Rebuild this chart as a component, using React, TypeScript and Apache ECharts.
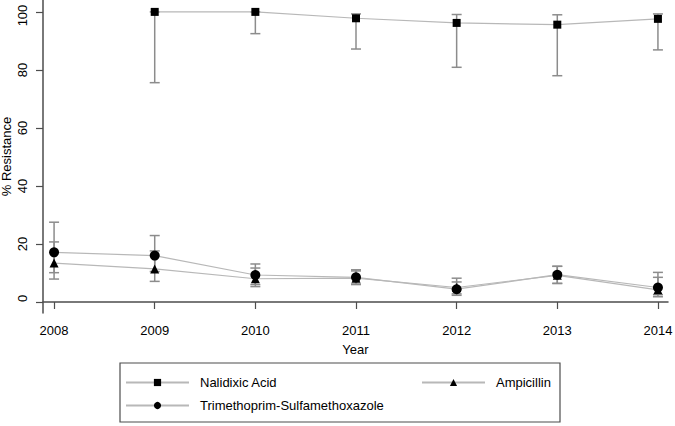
import React, { useEffect, useRef } from "react";
import * as echarts from "echarts";

const years = [2008, 2009, 2010, 2011, 2012, 2013, 2014];
const yTicks = [0, 20, 40, 60, 80, 100];

const nalidixic = [null, 100, 100, 97.8, 96.2, 95.6, 97.6];
const nalidixicLow = [null, 75.6, 92.5, 87.2, 80.9, 78.0, 86.9];
const nalidixicHigh = [null, 100, 100, 99.3, 99.1, 99.0, 99.3];

const ampicillin = [13.4, 11.4, 8.0, 8.2, 5.0, 9.2, 4.2];
const ampicillinLow = [7.9, 7.1, 5.3, 6.0, 2.8, 6.4, 1.8];
const ampicillinHigh = [20.7, 17.6, 11.7, 10.7, 8.2, 12.3, 8.5];

const tmpSmx = [17.1, 16.0, 9.3, 8.5, 4.4, 9.4, 5.0];
const tmpSmxLow = [10.1, 10.5, 6.0, 6.2, 2.3, 6.4, 2.5];
const tmpSmxHigh = [27.5, 22.9, 13.1, 11.1, 6.9, 12.3, 10.2];

const FONT = "Liberation Sans, Arial, Helvetica, sans-serif";
const AXIS = "#4d4d4d";
const LINE = "#b8b8b8";
const BAR = "#8c8c8c";

function pts(vals: (number | null)[]) {
  return years
    .map((y, i) => [y, vals[i]])
    .filter((p) => p[1] !== null);
}
function bars(lo: (number | null)[], hi: (number | null)[]) {
  return years
    .map((y, i) => [y, lo[i], hi[i]])
    .filter((p) => p[1] !== null && p[2] !== null);
}

const errRender = (params: any, api: any) => {
  const x = api.value(0);
  const pLo = api.coord([x, api.value(1)]);
  const pHi = api.coord([x, api.value(2)]);
  const hw = 5;
  const st = { stroke: BAR, lineWidth: 1.5 };
  return {
    type: "group",
    children: [
      { type: "line", shape: { x1: pLo[0], y1: pLo[1], x2: pHi[0], y2: pHi[1] }, style: st },
      { type: "line", shape: { x1: pLo[0] - hw, y1: pLo[1], x2: pLo[0] + hw, y2: pLo[1] }, style: st },
      { type: "line", shape: { x1: pHi[0] - hw, y1: pHi[1], x2: pHi[0] + hw, y2: pHi[1] }, style: st },
    ],
  };
};

export default function App() {
  const ref = useRef<HTMLDivElement>(null);
  useEffect(() => {
    if (!ref.current) return;
    const chart = echarts.init(ref.current, null, { renderer: "svg" });
    const lineSeries = (name: string, data: any, symbol: string, size: number) => ({
      type: "line",
      name,
      data,
      symbol,
      symbolSize: size,
      showAllSymbol: true,
      itemStyle: { color: "#000" },
      lineStyle: { color: LINE, width: 1.2 },
      z: 5,
    });
    const legendCommon = {
      orient: "vertical",
      padding: 0,
      itemWidth: 63,
      itemHeight: 9,
      itemGap: 10,
      selectedMode: false,
      textStyle: { fontFamily: FONT, fontSize: 13, color: "#000", padding: [0, 0, 0, 6] },
    };
    // main plot: y range -3.8..104.1 over 313px -> 100 at 11.89px, 0 at 301.98px
    // label grid: 0..100 over 290.09px, raised by half a two-digit label width
    chart.setOption({
      animation: false,
      grid: [
        { left: 43, right: 7, top: 0, bottom: 113, outerBoundsMode: "none" },
        { left: 43, right: 7, top: 4.66, height: 290.09, outerBoundsMode: "none" },
      ],
      xAxis: [
        {
          type: "value",
          gridIndex: 0,
          min: 2007.89,
          max: 2014.1,
          name: "Year",
          nameLocation: "middle",
          nameGap: 30,
          nameMoveOverlap: false,
          nameTextStyle: { fontFamily: FONT, fontSize: 13, color: "#000" },
          splitLine: { show: false },
          axisLine: { lineStyle: { color: AXIS, width: 1.5 } },
          axisTick: { length: 7, lineStyle: { color: AXIS, width: 1.2 }, customValues: years },
          axisLabel: { customValues: years, margin: 11, fontFamily: FONT, fontSize: 13, color: "#000", formatter: (v: number) => String(v) },
        },
        { type: "value", gridIndex: 1, min: 2007.89, max: 2014.1, show: false },
      ],
      yAxis: [
        {
          type: "value",
          gridIndex: 0,
          min: -3.8,
          max: 104.1,
          name: "% Resistance",
          nameLocation: "middle",
          nameRotate: 90,
          nameGap: 30,
          nameMoveOverlap: false,
          nameTextStyle: { fontFamily: FONT, fontSize: 13, color: "#000" },
          splitLine: { show: false },
          axisLine: { show: true, lineStyle: { color: AXIS, width: 1.5 } },
          axisTick: { show: true, length: 7, lineStyle: { color: AXIS, width: 1.2 }, customValues: yTicks },
          axisLabel: { show: false },
        },
        {
          type: "value",
          gridIndex: 1,
          min: 0,
          max: 100,
          interval: 20,
          splitLine: { show: false },
          axisLine: { show: false },
          axisTick: { show: false },
          axisLabel: { rotate: 89.99, fontSize: 13, color: "#000", margin: 21, fontFamily: FONT },
        },
      ],
      legend: [
        { ...legendCommon, left: 125, top: 376, data: ["Nalidixic Acid", "Trimethoprim-Sulfamethoxazole"] },
        { ...legendCommon, left: 421, top: 376, data: ["Ampicillin"] },
      ],
      graphic: [
        {
          type: "rect",
          shape: { x: 120, y: 363, width: 440, height: 59 },
          style: { fill: "none", stroke: AXIS, lineWidth: 1.2 },
          silent: true,
        },
      ],
      series: [
        { type: "custom", name: "errN", renderItem: errRender, data: bars(nalidixicLow, nalidixicHigh), encode: { x: 0, y: [1, 2] }, z: 3 },
        { type: "custom", name: "errA", renderItem: errRender, data: bars(ampicillinLow, ampicillinHigh), encode: { x: 0, y: [1, 2] }, z: 3 },
        { type: "custom", name: "errT", renderItem: errRender, data: bars(tmpSmxLow, tmpSmxHigh), encode: { x: 0, y: [1, 2] }, z: 3 },
        lineSeries("Nalidixic Acid", pts(nalidixic), "rect", 8),
        lineSeries("Ampicillin", pts(ampicillin), "triangle", 9),
        lineSeries("Trimethoprim-Sulfamethoxazole", pts(tmpSmx), "circle", 10),
      ],
    });
    return () => chart.dispose();
  }, []);
  return <div ref={ref} style={{ width: 675, height: 426, position: "absolute", left: 0, top: 0 }} />;
}
